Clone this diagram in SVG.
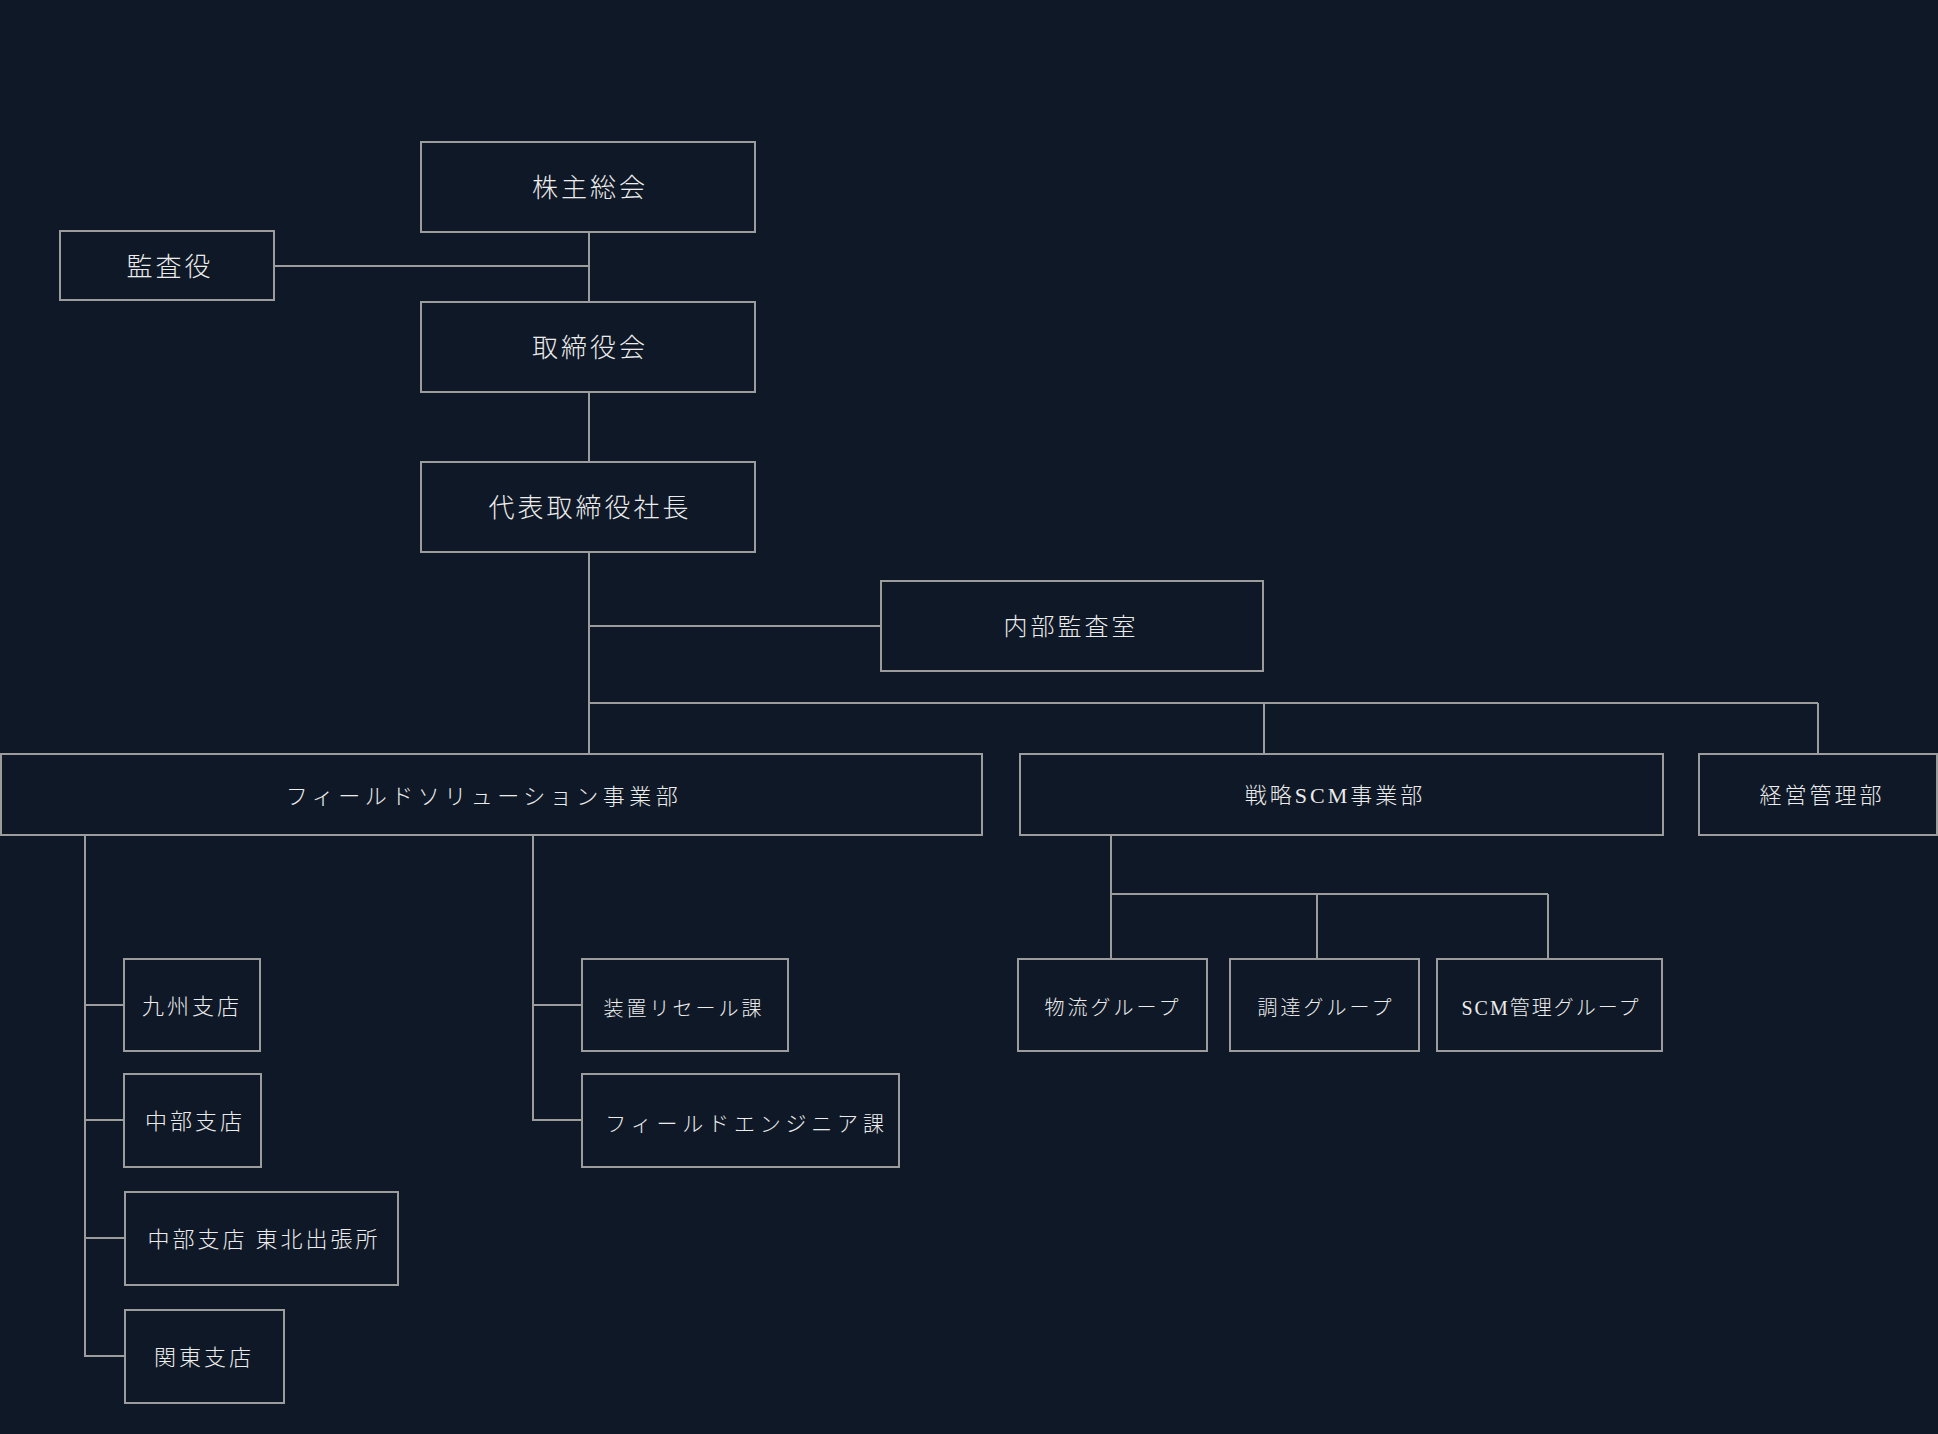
<svg xmlns="http://www.w3.org/2000/svg" width="1938" height="1434" viewBox="0 0 1938 1434">
<style>
.bg{fill:#0f1826}
.box{fill:#0f1826;stroke:#9c9c9c;stroke-width:2}
.ln{fill:none;stroke:#9c9c9c;stroke-width:2}
text{fill:#ececec;text-anchor:middle;font-weight:300;font-family:"Noto Sans CJK JP","Noto Sans CJK SC",sans-serif}
.sr{font-family:"Liberation Serif","Noto Sans CJK JP",serif}
.t26{font-size:26px;letter-spacing:3px}
.t24{font-size:24px;letter-spacing:3px}
.t22{font-size:22px;letter-spacing:3px}
.t20{font-size:20px;letter-spacing:3px}
</style>
<rect class="bg" x="0" y="0" width="1938" height="1434"/>
<g id="connectors">
<path class="ln" d="M589 232V302M274 266H589M589 392V462M589 552V754M589 626H881M589 703H1818M1264 703V754M1818 703V754"/>
<path class="ln" d="M85 835V1357M85 1005H124M85 1120H124M85 1238H125M85 1356H125"/>
<path class="ln" d="M533 835V1121M533 1005H582M533 1120H582"/>
<path class="ln" d="M1111 835V959M1111 894H1548M1317 894V959M1548 894V959"/>
</g>
<g id="n1"><rect class="box" x="421" y="142" width="334" height="90"/><text class="t26" x="590" y="197">株主総会</text></g>
<g id="n2"><rect class="box" x="60" y="231" width="214" height="69"/><text class="t26" x="170" y="276">監査役</text></g>
<g id="n3"><rect class="box" x="421" y="302" width="334" height="90"/><text class="t26" x="590" y="357">取締役会</text></g>
<g id="n4"><rect class="box" x="421" y="462" width="334" height="90"/><text class="t26" x="590" y="517">代表取締役社長</text></g>
<g id="n5"><rect class="box" x="881" y="581" width="382" height="90"/><text class="t24" x="1071" y="635">内部監査室</text></g>
<g id="n6"><rect class="box" x="1" y="754" width="981" height="81"/><text style="font-size:22px;letter-spacing:4.5px" x="484" y="804">フィールドソリューション事業部</text></g>
<g id="n7"><rect class="box" x="1020" y="754" width="643" height="81"/><text class="t22 sr" x="1335" y="803">戦略SCM事業部</text></g>
<g id="n8"><rect class="box" x="1699" y="754" width="238" height="81"/><text class="t22" x="1822" y="803">経営管理部</text></g>
<g id="n9"><rect class="box" x="124" y="959" width="136" height="92"/><text class="t22" x="192" y="1014">九州支店</text></g>
<g id="n10"><rect class="box" x="124" y="1074" width="137" height="93"/><text class="t22" x="195" y="1129">中部支店</text></g>
<g id="n11"><rect class="box" x="125" y="1192" width="273" height="93"/><text class="t22" x="264" y="1247">中部支店 東北出張所</text></g>
<g id="n12"><rect class="box" x="125" y="1310" width="159" height="93"/><text class="t22" x="204" y="1365">関東支店</text></g>
<g id="n13"><rect class="box" x="582" y="959" width="206" height="92"/><text class="t20" x="684" y="1016">装置リセール課</text></g>
<g id="n14"><rect class="box" x="582" y="1074" width="317" height="93"/><text style="font-size:21px;letter-spacing:4.8px" x="747" y="1131">フィールドエンジニア課</text></g>
<g id="n15"><rect class="box" x="1018" y="959" width="189" height="92"/><text class="t20" x="1113" y="1015">物流グループ</text></g>
<g id="n16"><rect class="box" x="1230" y="959" width="189" height="92"/><text class="t20" x="1326" y="1015">調達グループ</text></g>
<g id="n17"><rect class="box" x="1437" y="959" width="225" height="92"/><text class="sr" style="font-size:20px;letter-spacing:2px" x="1551" y="1015">SCM管理グループ</text></g>
</svg>
